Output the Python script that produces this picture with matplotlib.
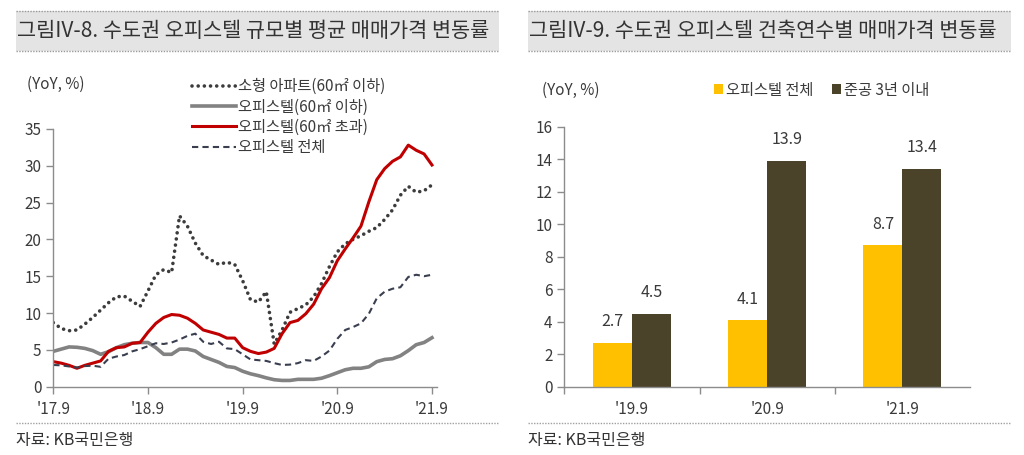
import matplotlib
matplotlib.use("Agg")
import matplotlib.pyplot as plt
from matplotlib.patches import Rectangle
from matplotlib.lines import Line2D
import numpy as np

plt.rcParams['font.family'] = ['Noto Sans CJK KR', 'DejaVu Sans']

# ---------------- data ----------------
months = list(range(49))  # '17.9 .. '21.9 monthly
xtick_pos = [0, 12, 24, 36, 48]
xtick_labels = ["'17.9", "'18.9", "'19.9", "'20.9", "'21.9"]

small_apt = [8.7, 7.9, 7.6, 7.7, 8.5, 9.4, 10.4, 11.4, 12.2, 12.3, 11.6, 10.9,
             13.0, 15.2, 15.9, 15.5, 23.2, 21.8, 19.5, 17.8, 17.2, 16.6, 16.9, 16.6,
             14.4, 11.8, 11.5, 12.9, 5.8, 7.7, 10.1, 10.6, 11.1, 12.2, 14.0, 16.3,
             18.3, 19.4, 20.0, 20.5, 21.1, 21.6, 22.7, 24.0, 26.0, 27.2, 26.4, 26.6, 27.4]
off_small = [4.8, 5.1, 5.4, 5.35, 5.2, 4.9, 4.4, 4.75, 5.3, 5.7, 5.9, 6.0,
             6.0, 5.3, 4.4, 4.4, 5.1, 5.1, 4.85, 4.1, 3.7, 3.3, 2.75, 2.6,
             2.1, 1.75, 1.5, 1.2, 0.95, 0.85, 0.85, 1.0, 1.0, 1.0, 1.15, 1.5,
             1.9, 2.3, 2.5, 2.5, 2.7, 3.4, 3.7, 3.8, 4.2, 4.9, 5.7, 6.0, 6.65]
off_large = [3.4, 3.2, 2.9, 2.5, 2.9, 3.2, 3.5, 4.8, 5.3, 5.4, 5.9, 6.0,
             7.4, 8.6, 9.4, 9.8, 9.7, 9.3, 8.6, 7.7, 7.4, 7.1, 6.6, 6.6,
             5.3, 4.8, 4.5, 4.7, 5.2, 7.2, 8.7, 9.0, 9.9, 11.2, 13.3, 14.8,
             17.1, 18.7, 20.2, 21.8, 25.1, 28.1, 29.6, 30.6, 31.2, 32.8, 32.1, 31.6, 30.1]
off_all = [2.95, 2.9, 2.75, 2.6, 2.8, 2.85, 2.7, 3.8, 4.1, 4.3, 4.8, 5.1,
           5.5, 5.9, 5.8, 6.0, 6.4, 6.9, 7.2, 6.1, 5.8, 6.1, 5.2, 5.1,
           4.4, 3.7, 3.6, 3.5, 3.2, 2.95, 3.0, 3.2, 3.6, 3.5, 4.1, 4.9,
           6.5, 7.7, 8.1, 8.6, 9.9, 12.0, 12.9, 13.3, 13.5, 14.9, 15.2, 15.0, 15.2]

line_labels = ['소형 아파트(60㎡ 이하)', '오피스텔(60㎡ 이하)', '오피스텔(60㎡ 초과)', '오피스텔 전체']

bar_cats = ["'19.9", "'20.9", "'21.9"]
bar_all = [2.7, 4.1, 8.7]
bar_new = [4.5, 13.9, 13.4]
bar_labels = ['오피스텔 전체', '준공 3년 이내']

# ---------------- figure ----------------
W, H = 1024, 455
fig = plt.figure(figsize=(W / 100, H / 100), dpi=100)

def fx(px):
    return px / W

def fy(py):
    return 1 - py / H

text_col = '#3a3a3a'
axis_col = '#8c8c8c'

# title boxes
for (x0, x1, title) in [(16, 499, '그림IV-8. 수도권 오피스텔 규모별 평균 매매가격 변동률'),
                        (528, 1011, '그림IV-9. 수도권 오피스텔 건축연수별 매매가격 변동률')]:
    fig.patches.append(Rectangle((fx(x0), fy(51)), fx(x1 - x0), (51 - 11) / H,
                                 transform=fig.transFigure, facecolor='#e4e4e4',
                                 edgecolor='none', zorder=0))
    for yy in (11, 51):
        fig.lines.append(Line2D([fx(x0), fx(x1)], [fy(yy), fy(yy)], transform=fig.transFigure,
                                color='#9a9a9a', lw=1.0, linestyle=(0, (1, 1))))
    fig.text(fx(x0 + 1), fy(31), title, fontsize=15, color='#333333', va='center', ha='left')
    # bottom separator and source
    fig.lines.append(Line2D([fx(x0), fx(x1)], [fy(423), fy(423)], transform=fig.transFigure,
                            color='#a0a0a0', lw=1.0, linestyle=(0, (1, 1))))
    fig.text(fx(x0), fy(441), '자료: KB국민은행', fontsize=11.5, color='#333333',
             va='center', ha='left')

# ---------------- left chart ----------------
axL = fig.add_axes([fx(53.3), fy(386.7), fx(436.7 - 53.3), (386.7 - 128.9) / H])
axL.plot(months, small_apt, color='#3c3c3c', lw=2.6, linestyle=(0, (0.01, 1.7)),
         dash_capstyle='round', solid_capstyle='round', label=line_labels[0])
axL.plot(months, off_small, color='#828282', lw=2.6, label=line_labels[1])
axL.plot(months, off_large, color='#c00000', lw=2.2, label=line_labels[2])
axL.plot(months, off_all, color='#3a3f50', lw=1.5, linestyle=(0, (3, 2)), label=line_labels[3])

axL.set_xlim(0, 48.6)
axL.set_ylim(0, 35)
axL.set_yticks(range(0, 36, 5))
axL.set_xticks(xtick_pos)
axL.set_xticklabels(xtick_labels)
for s in ('top', 'right'):
    axL.spines[s].set_visible(False)
for s in ('left', 'bottom'):
    axL.spines[s].set_color(axis_col)
    axL.spines[s].set_linewidth(1.0)
axL.tick_params(axis='both', colors=axis_col, labelcolor=text_col, labelsize=11, length=5, width=1.0)
axL.tick_params(axis='x', pad=5)
axL.patch.set_alpha(0)

fig.text(fx(27), fy(84), '(YoY, %)', fontsize=11, color=text_col, va='center', ha='left')
fig.legend(handles=axL.get_lines(), labels=line_labels, loc='upper left',
           bbox_to_anchor=(fx(186), fy(72)), frameon=False, fontsize=11,
           handlelength=2.9, handletextpad=0.1, labelspacing=0.22, borderaxespad=0,
           labelcolor=text_col)

# ---------------- right chart ----------------
axR = fig.add_axes([fx(564.3), fy(386.7), fx(970 - 564.3), (386.7 - 126.7) / H])
xc = np.arange(len(bar_cats))
bw = 0.289
b1 = axR.bar(xc - bw / 2, bar_all, width=bw, color='#ffc000', label=bar_labels[0])
b2 = axR.bar(xc + bw / 2, bar_new, width=bw, color='#4a4229', label=bar_labels[1])
for bars, vals in ((b1, bar_all), (b2, bar_new)):
    for r, v in zip(bars, vals):
        axR.annotate(f'{v:.1f}', (r.get_x() + r.get_width() / 2, v), xytext=(0, 21),
                     textcoords='offset pixels', ha='center', va='center',
                     fontsize=11.5, color=text_col)
axR.set_xlim(-0.5, 2.5)
axR.set_ylim(0, 16)
axR.set_yticks(range(0, 17, 2))
axR.set_xticks(xc)
axR.set_xticklabels(bar_cats)
axR.set_xticks([-0.5, 0.5, 1.5], minor=True)
for s in ('top', 'right'):
    axR.spines[s].set_visible(False)
for s in ('left', 'bottom'):
    axR.spines[s].set_color(axis_col)
    axR.spines[s].set_linewidth(1.0)
axR.tick_params(axis='y', colors=axis_col, labelcolor=text_col, labelsize=11, length=5, width=1.0)
axR.tick_params(axis='x', which='major', length=0, labelcolor=text_col, labelsize=11, pad=10)
axR.tick_params(axis='x', which='minor', length=5, width=1.0, colors=axis_col)
axR.patch.set_alpha(0)

fig.text(fx(542), fy(90), '(YoY, %)', fontsize=11, color=text_col, va='center', ha='left')
fig.legend(handles=[b1], labels=[bar_labels[0]], loc='center left',
           bbox_to_anchor=(fx(708), fy(90)), frameon=False, fontsize=11,
           handlelength=0.6, handleheight=0.6, handletextpad=0.2, borderaxespad=0,
           labelcolor=text_col)
fig.legend(handles=[b2], labels=[bar_labels[1]], loc='center left',
           bbox_to_anchor=(fx(826), fy(90)), frameon=False, fontsize=11,
           handlelength=0.6, handleheight=0.6, handletextpad=0.2, borderaxespad=0,
           labelcolor=text_col)

fig.savefig('out.png', dpi=100)
